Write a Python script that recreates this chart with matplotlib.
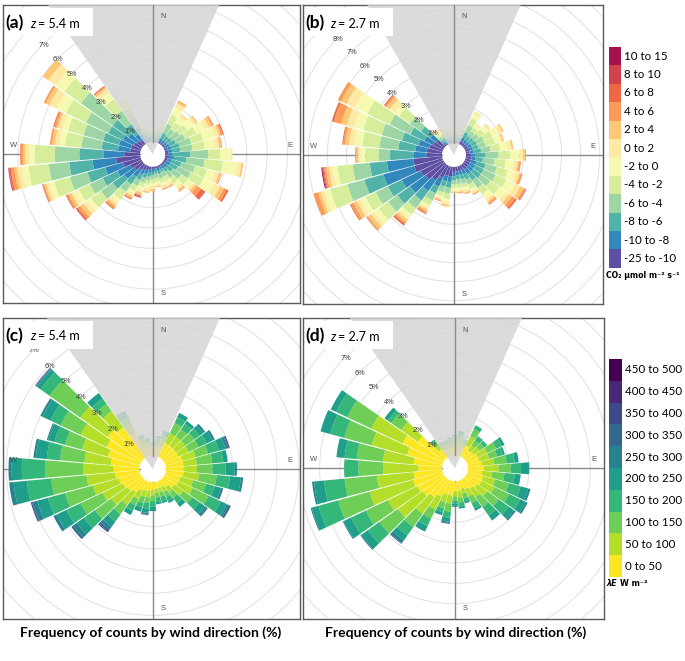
import numpy as np
import matplotlib.pyplot as plt
from matplotlib.patches import Wedge, Circle, Rectangle

# wind direction bins (deg, clockwise from N), 10 deg wide
directions = np.arange(0, 360, 10)

co2_classes = ["-25 to -10", "-10 to -8", "-8 to -6", "-6 to -4", "-4 to -2", "-2 to 0",
               "0 to 2", "2 to 4", "4 to 6", "6 to 8", "8 to 10", "10 to 15"]
le_classes = ["0 to 50", "50 to 100", "100 to 150", "150 to 200", "200 to 250",
              "250 to 300", "300 to 350", "350 to 400", "400 to 450", "450 to 500"]

# frequency (%) per direction bin, one column per class (low -> high)
co2_54 = [
    [0.05, 0.05, 0.1, 0.1, 0.1, 0.05, 0.05, 0, 0, 0, 0, 0],
    [0.05, 0.1, 0.1, 0.15, 0.15, 0.1, 0.05, 0, 0, 0, 0, 0],
    [0.1, 0.1, 0.15, 0.2, 0.2, 0.1, 0.05, 0, 0, 0, 0, 0],
    [0.1, 0.15, 0.3, 0.5, 0.5, 0.4, 0.2, 0.1, 0.05, 0, 0, 0],
    [0.1, 0.15, 0.25, 0.4, 0.4, 0.3, 0.15, 0.05, 0, 0, 0, 0],
    [0.1, 0.15, 0.3, 0.45, 0.45, 0.4, 0.15, 0.1, 0, 0, 0, 0],
    [0.1, 0.2, 0.35, 0.5, 0.6, 0.5, 0.2, 0.15, 0.1, 0, 0, 0],
    [0.15, 0.2, 0.4, 0.6, 0.6, 0.6, 0.2, 0.1, 0.1, 0.05, 0, 0],
    [0.15, 0.2, 0.4, 0.6, 0.6, 0.5, 0.2, 0.1, 0.05, 0, 0, 0],
    [0.16, 0.17, 0.9, 0.88, 0.58, 0.52, 0.09, 0, 0, 0, 0, 0],
    [0.2, 0.25, 0.6, 0.9, 0.9, 0.7, 0.2, 0.1, 0, 0, 0, 0],
    [0.15, 0.2, 0.5, 0.7, 0.6, 0.4, 0.2, 0.1, 0.05, 0, 0, 0],
    [0.15, 0.2, 0.4, 0.7, 0.7, 0.6, 0.3, 0.2, 0.15, 0.1, 0, 0],
    [0.1, 0.2, 0.3, 0.5, 0.4, 0.3, 0.1, 0.15, 0.25, 0.2, 0.05, 0],
    [0.1, 0.15, 0.2, 0.35, 0.35, 0.25, 0.1, 0.1, 0.05, 0, 0, 0],
    [0.1, 0.1, 0.15, 0.25, 0.25, 0.15, 0.1, 0.05, 0.05, 0, 0, 0],
    [0.1, 0.15, 0.15, 0.25, 0.2, 0.15, 0.1, 0.05, 0.05, 0, 0, 0],
    [0.1, 0.1, 0.15, 0.2, 0.2, 0.1, 0.1, 0.05, 0, 0, 0, 0],
    [0.1, 0.15, 0.15, 0.2, 0.2, 0.15, 0.15, 0.1, 0, 0, 0, 0],
    [0.15, 0.15, 0.2, 0.2, 0.2, 0.15, 0.15, 0.1, 0, 0, 0, 0],
    [0.2, 0.2, 0.2, 0.25, 0.2, 0.15, 0.15, 0.1, 0.05, 0.05, 0.05, 0],
    [0.25, 0.25, 0.3, 0.3, 0.3, 0.15, 0.1, 0.1, 0.05, 0.05, 0, 0],
    [0.35, 0.4, 0.45, 0.45, 0.45, 0.2, 0.15, 0.1, 0.1, 0.05, 0, 0],
    [0.5, 0.6, 0.7, 0.7, 0.6, 0.25, 0.2, 0.2, 0.15, 0.07, 0.03, 0],
    [0.6, 0.7, 0.8, 0.7, 0.6, 0.25, 0.15, 0.15, 0.1, 0.05, 0, 0],
    [0.9, 0.9, 0.9, 0.9, 0.8, 0.25, 0.15, 0.1, 0.07, 0.03, 0, 0],
    [1.2, 1.15, 1.15, 1.0, 1.0, 0.3, 0.25, 0.15, 0.17, 0.08, 0.03, 0.02],
    [0.78, 1.0, 1.2, 1.2, 1.0, 0.26, 0.2, 0.1, 0.14, 0.02, 0, 0],
    [0.5, 0.6, 0.8, 1.0, 0.8, 0.3, 0.2, 0.15, 0.1, 0, 0, 0],
    [0.5, 0.6, 0.8, 1.0, 0.8, 0.3, 0.2, 0.1, 0.1, 0.05, 0, 0],
    [0.4, 0.6, 0.8, 1.2, 1.1, 0.5, 0.4, 0.2, 0.1, 0, 0, 0],
    [0.33, 0.52, 0.95, 1.9, 1.0, 0.5, 0.46, 0.34, 0, 0, 0, 0],
    [0.25, 0.35, 0.6, 0.8, 0.7, 0.4, 0.2, 0.1, 0.05, 0.05, 0, 0],
    [0.2, 0.3, 0.4, 0.5, 0.5, 0.3, 0.2, 0, 0, 0, 0, 0],
    [0.1, 0.1, 0.15, 0.2, 0.2, 0.15, 0.1, 0, 0, 0, 0, 0],
    [0.05, 0.1, 0.1, 0.15, 0.15, 0.1, 0.05, 0, 0, 0, 0, 0],
]

co2_27 = [
    [0.05, 0.1, 0.1, 0.1, 0.1, 0.1, 0.05, 0, 0, 0, 0, 0],
    [0.1, 0.1, 0.1, 0.15, 0.15, 0.1, 0.1, 0, 0, 0, 0, 0],
    [0.1, 0.1, 0.15, 0.2, 0.2, 0.15, 0.1, 0, 0, 0, 0, 0],
    [0.2, 0.2, 0.3, 0.4, 0.4, 0.25, 0.15, 0, 0, 0, 0, 0],
    [0.15, 0.2, 0.25, 0.3, 0.25, 0.15, 0.1, 0, 0, 0, 0, 0],
    [0.15, 0.2, 0.3, 0.3, 0.35, 0.25, 0.1, 0.05, 0, 0, 0, 0],
    [0.2, 0.2, 0.3, 0.4, 0.5, 0.35, 0.2, 0.1, 0, 0, 0, 0],
    [0.2, 0.2, 0.3, 0.4, 0.5, 0.3, 0.1, 0.1, 0, 0, 0, 0],
    [0.2, 0.2, 0.4, 0.5, 0.5, 0.4, 0.2, 0.1, 0, 0, 0, 0],
    [0.3, 0.2, 0.5, 0.7, 0.6, 0.5, 0.2, 0.1, 0.04, 0, 0, 0],
    [0.3, 0.2, 0.4, 0.6, 0.6, 0.4, 0.2, 0.1, 0.1, 0, 0, 0],
    [0.3, 0.3, 0.5, 0.6, 0.6, 0.4, 0.2, 0.1, 0.1, 0, 0, 0],
    [0.3, 0.3, 0.5, 0.7, 0.6, 0.5, 0.3, 0.2, 0.1, 0.04, 0.02, 0],
    [0.3, 0.3, 0.5, 0.6, 0.6, 0.4, 0.2, 0.2, 0.2, 0.1, 0, 0],
    [0.3, 0.3, 0.4, 0.5, 0.4, 0.3, 0.15, 0.1, 0.1, 0.02, 0, 0],
    [0.25, 0.25, 0.3, 0.3, 0.25, 0.15, 0.1, 0.05, 0.05, 0, 0, 0],
    [0.25, 0.2, 0.25, 0.25, 0.2, 0.15, 0.1, 0.05, 0.05, 0, 0, 0],
    [0.25, 0.2, 0.2, 0.25, 0.2, 0.1, 0.1, 0.05, 0.05, 0, 0, 0],
    [0.3, 0.2, 0.2, 0.2, 0.2, 0.1, 0.1, 0.06, 0, 0, 0, 0],
    [0.5, 0.3, 0.3, 0.3, 0.3, 0.15, 0.15, 0.1, 0, 0, 0, 0],
    [0.5, 0.3, 0.3, 0.3, 0.2, 0.1, 0.1, 0.05, 0.05, 0, 0, 0],
    [0.7, 0.5, 0.4, 0.4, 0.3, 0.15, 0.1, 0.1, 0.1, 0.05, 0, 0],
    [1.0, 0.7, 0.6, 0.5, 0.4, 0.2, 0.15, 0.15, 0.1, 0.1, 0, 0],
    [1.2, 1.0, 0.8, 0.6, 0.6, 0.3, 0.2, 0.2, 0.1, 0, 0, 0],
    [1.3, 1.1, 0.8, 0.7, 0.6, 0.3, 0.2, 0.2, 0.15, 0.05, 0, 0],
    [1.53, 1.67, 1.04, 0.93, 0.93, 0.3, 0.2, 0.15, 0.25, 0, 0, 0],
    [1.5, 1.4, 0.9, 0.9, 0.8, 0.25, 0.2, 0.15, 0.1, 0.05, 0.05, 0.05],
    [0.8, 0.7, 1.22, 0.6, 0.7, 0.26, 0.1, 0.1, 0.07, 0, 0, 0],
    [0.8, 0.6, 0.9, 1.0, 0.9, 0.4, 0.3, 0.2, 0.1, 0.05, 0, 0],
    [0.7, 0.6, 0.9, 1.1, 1.0, 0.5, 0.4, 0.3, 0.4, 0.1, 0, 0],
    [0.6, 0.5, 0.8, 1.2, 1.3, 0.7, 0.5, 0.3, 0.2, 0, 0, 0],
    [0.5, 0.4, 0.6, 0.7, 0.7, 0.3, 0.3, 0.2, 0.1, 0.07, 0, 0],
    [0.1, 0.1, 0.15, 0.2, 0.2, 0.1, 0.1, 0.05, 0, 0, 0, 0],
    [0.1, 0.1, 0.15, 0.15, 0.15, 0.1, 0.1, 0.05, 0, 0, 0, 0],
    [0.1, 0.1, 0.1, 0.15, 0.15, 0.1, 0.1, 0, 0, 0, 0, 0],
    [0.1, 0.1, 0.1, 0.15, 0.15, 0.1, 0.1, 0, 0, 0, 0, 0],
]

le_54 = [
    [0.3, 0.15, 0.1, 0.05, 0, 0, 0, 0, 0, 0],
    [0.4, 0.2, 0.2, 0.1, 0, 0, 0, 0, 0, 0],
    [0.5, 0.3, 0.2, 0.2, 0, 0, 0, 0, 0, 0],
    [0.7, 0.5, 0.5, 0.3, 0.2, 0, 0, 0, 0, 0],
    [0.7, 0.5, 0.4, 0.3, 0.16, 0, 0, 0, 0, 0],
    [0.7, 0.5, 0.5, 0.3, 0.2, 0.1, 0, 0, 0, 0],
    [0.7, 0.5, 0.5, 0.4, 0.3, 0.1, 0, 0, 0, 0],
    [0.8, 0.6, 0.6, 0.5, 0.3, 0.1, 0.05, 0.05, 0, 0],
    [0.8, 0.6, 0.7, 0.5, 0.2, 0, 0, 0, 0, 0],
    [0.8, 0.6, 0.7, 0.6, 0.4, 0.1, 0, 0, 0, 0],
    [0.8, 0.7, 0.8, 0.6, 0.5, 0.1, 0, 0, 0, 0],
    [0.7, 0.6, 0.6, 0.4, 0.3, 0.1, 0, 0, 0, 0],
    [0.7, 0.7, 0.8, 0.6, 0.3, 0.1, 0.1, 0, 0, 0],
    [0.6, 0.5, 0.5, 0.4, 0.3, 0.1, 0.05, 0, 0, 0],
    [0.4, 0.3, 0.3, 0.3, 0.2, 0, 0, 0, 0, 0],
    [0.3, 0.25, 0.25, 0.2, 0.1, 0, 0, 0, 0, 0],
    [0.3, 0.2, 0.2, 0.2, 0.1, 0, 0, 0, 0, 0],
    [0.3, 0.2, 0.2, 0.2, 0.1, 0, 0, 0, 0, 0],
    [0.35, 0.25, 0.25, 0.25, 0.15, 0.05, 0, 0, 0, 0],
    [0.4, 0.3, 0.25, 0.25, 0.2, 0.05, 0.03, 0.02, 0, 0],
    [0.4, 0.3, 0.3, 0.2, 0.2, 0, 0, 0, 0, 0],
    [0.5, 0.4, 0.3, 0.3, 0.2, 0, 0, 0, 0, 0],
    [0.7, 0.7, 0.5, 0.4, 0.3, 0.15, 0.1, 0.05, 0, 0],
    [0.8, 0.9, 0.9, 0.6, 0.4, 0.2, 0.1, 0, 0, 0],
    [0.9, 1.0, 1.1, 0.7, 0.5, 0.15, 0, 0, 0, 0],
    [1.0, 1.2, 1.3, 0.8, 0.5, 0.2, 0.05, 0.05, 0, 0],
    [1.1, 1.3, 1.6, 1.1, 0.6, 0.2, 0, 0, 0, 0],
    [1.18, 1.35, 1.73, 1.04, 0.46, 0.14, 0, 0, 0, 0],
    [1.3, 1.2, 1.1, 0.6, 0.5, 0.1, 0, 0, 0, 0],
    [1.5, 1.2, 0.8, 0.5, 0.3, 0.05, 0, 0, 0, 0],
    [1.7, 1.3, 1.0, 0.5, 0.4, 0.1, 0, 0, 0, 0],
    [1.9, 1.5, 1.7, 0.5, 0.2, 0.05, 0.03, 0.02, 0, 0],
    [1.7, 0.9, 0.4, 0.3, 0.3, 0, 0, 0, 0, 0],
    [1.2, 0.5, 0.3, 0.2, 0.1, 0, 0, 0, 0, 0],
    [0.5, 0.2, 0.2, 0.1, 0, 0, 0, 0, 0, 0],
    [0.4, 0.2, 0.1, 0.1, 0, 0, 0, 0, 0, 0],
]

le_27 = [
    [0.4, 0.3, 0.2, 0.1, 0, 0, 0, 0, 0, 0],
    [0.5, 0.3, 0.2, 0.2, 0, 0, 0, 0, 0, 0],
    [0.4, 0.2, 0.15, 0.1, 0, 0, 0, 0, 0, 0],
    [0.6, 0.5, 0.4, 0.2, 0, 0, 0, 0, 0, 0],
    [0.45, 0.3, 0.3, 0.2, 0.05, 0, 0, 0, 0, 0],
    [0.5, 0.35, 0.25, 0.2, 0, 0, 0, 0, 0, 0],
    [0.6, 0.5, 0.5, 0.3, 0.15, 0, 0, 0, 0, 0],
    [0.6, 0.5, 0.4, 0.3, 0.1, 0, 0, 0, 0, 0],
    [0.7, 0.6, 0.6, 0.4, 0.2, 0, 0, 0, 0, 0],
    [0.8, 0.7, 0.6, 0.5, 0.4, 0, 0, 0, 0, 0],
    [0.7, 0.5, 0.6, 0.5, 0.3, 0, 0, 0, 0, 0],
    [0.8, 0.6, 0.7, 0.6, 0.4, 0.1, 0, 0, 0, 0],
    [0.8, 0.7, 0.8, 0.6, 0.3, 0.1, 0, 0, 0, 0],
    [0.7, 0.6, 0.7, 0.6, 0.3, 0.1, 0, 0, 0, 0],
    [0.6, 0.5, 0.6, 0.5, 0.3, 0, 0, 0, 0, 0],
    [0.5, 0.4, 0.35, 0.3, 0.12, 0, 0, 0, 0, 0],
    [0.4, 0.25, 0.25, 0.15, 0.1, 0, 0, 0, 0, 0],
    [0.5, 0.3, 0.25, 0.2, 0.1, 0, 0, 0, 0, 0],
    [0.5, 0.25, 0.2, 0.15, 0.1, 0.05, 0, 0, 0, 0],
    [0.7, 0.4, 0.4, 0.3, 0.2, 0.05, 0.05, 0, 0, 0],
    [0.7, 0.4, 0.3, 0.2, 0.15, 0, 0, 0, 0, 0],
    [0.9, 0.7, 0.5, 0.4, 0.3, 0, 0, 0, 0, 0],
    [1.1, 1.0, 0.8, 0.5, 0.3, 0.15, 0.05, 0, 0, 0],
    [1.3, 1.5, 1.1, 0.7, 0.4, 0.05, 0, 0, 0, 0],
    [1.4, 1.6, 1.2, 0.8, 0.4, 0.05, 0, 0, 0, 0],
    [1.5, 2.2, 1.6, 1.0, 0.35, 0.05, 0, 0, 0, 0],
    [1.4, 1.8, 1.6, 1.0, 0.5, 0.1, 0, 0, 0, 0],
    [1.16, 1.72, 1.22, 0.7, 0, 0, 0, 0, 0, 0],
    [1.4, 1.5, 1.3, 0.6, 0.4, 0, 0, 0, 0, 0],
    [1.8, 1.8, 1.4, 0.7, 0.5, 0, 0, 0, 0, 0],
    [2.2, 1.7, 1.3, 0.6, 0.3, 0, 0, 0, 0, 0],
    [1.6, 1.0, 0.6, 0.2, 0.2, 0, 0, 0, 0, 0],
    [0.5, 0.3, 0.2, 0.1, 0, 0, 0, 0, 0, 0],
    [0.4, 0.2, 0.15, 0.05, 0, 0, 0, 0, 0, 0],
    [0.35, 0.2, 0.15, 0.1, 0, 0, 0, 0, 0, 0],
    [0.4, 0.2, 0.2, 0.1, 0, 0, 0, 0, 0, 0],
]

co2_colors = ["#5e4fa2", "#3288bd", "#52b4a9", "#9dd6a4", "#d6ee9b", "#f5fab0",
              "#feeaa5", "#fdc876", "#fb9b57", "#ef6845", "#d3404e", "#a3124a"]
le_colors = ["#fde725", "#b5de2b", "#6ece58", "#35b779", "#1f9e89",
             "#26828e", "#31688e", "#3e4989", "#482878", "#440154"]

W, H = 685, 661
fig = plt.figure(figsize=(W / 100, H / 100), dpi=100)
txt_font = ["Lato", "DejaVu Sans"]
bar_width = 9.3


def draw_rose(box, center, scale, hole, freq, colors, sector, tag, height, nlab):
    x0, y0, x1, y1 = box
    cx, cy = center
    ax = fig.add_axes([x0 / W, 1 - y1 / H, (x1 - x0) / W, (y1 - y0) / H])
    ax.set_xlim((x0 - cx) / scale, (x1 - cx) / scale)
    ax.set_ylim((cy - y1) / scale, (cy - y0) / scale)
    ax.set_xticks([])
    ax.set_yticks([])
    for sp in ax.spines.values():
        sp.set_color("#5a5a5a")
        sp.set_linewidth(1.0)

    def px(xp, yp):
        return (xp - cx) / scale, (cy - yp) / scale

    r0 = hole / scale
    big = 30
    for k in range(1, 15):
        ax.add_patch(Circle((0, 0), r0 + k, fill=False, ec="#e4e4e4", lw=0.8, zorder=0))
    ax.plot([-big, -r0], [0, 0], color="#8a8a8a", lw=1.0, zorder=1)
    ax.plot([r0, big], [0, 0], color="#8a8a8a", lw=1.0, zorder=1)
    ax.plot([0, 0], [-big, -r0], color="#8a8a8a", lw=1.0, zorder=1)
    ax.plot([0, 0], [r0, big], color="#8a8a8a", lw=1.0, zorder=5)

    for d, row in zip(directions, freq):
        bottom = r0
        for v, c in zip(row, colors):
            if v <= 0:
                continue
            ax.add_patch(Wedge((0, 0), bottom + v, 90 - d - bar_width / 2, 90 - d + bar_width / 2,
                               width=v, fc=c, ec="none", zorder=2))
            bottom += v

    # excluded sector
    ax.add_patch(Wedge((0, 0), big, 90 - sector[1], 90 - sector[0],
                       fc="#d4d4d4", ec="none", alpha=0.82, zorder=3))

    s45 = np.sqrt(0.5)
    for k in range(1, nlab + 1):
        ax.text(-(r0 + k - 0.05) * s45, (r0 + k - 0.05) * s45, f"{k}%", ha="center", va="center",
                fontsize=5.3, color="#3a3a3a", family="Liberation Sans", zorder=6)

    lab = dict(fontsize=5.5, color="#505050", family="Liberation Sans", zorder=6,
               ha="center", va="center")
    ax.text(*px(cx + 10, y0 + 12), "N", **lab)
    ax.text(*px(cx + 10, y1 - 10), "S", **lab)
    ax.text(*px(x0 + 11, cy - 9), "W", **lab)
    ax.text(*px(x1 - 10, cy - 9), "E", **lab)

    bx0, by0 = px(x0 + 2, y0 + 31)
    ax.add_patch(Rectangle((bx0, by0), 88 / scale, 28 / scale, fc="white", ec="none", zorder=7))
    ax.text(*px(x0 + 2, y0 + 18), f"({tag})", fontsize=12.5, weight="bold", family=txt_font,
            ha="left", va="center", zorder=8)
    ax.text(*px(x0 + 27, y0 + 18.5), "z", fontsize=9, style="italic", family=txt_font,
            ha="left", va="center", zorder=8)
    ax.text(*px(x0 + 35, y0 + 18.5), f"= {height} m", fontsize=9, family=txt_font,
            ha="left", va="center", zorder=8)
    return ax


draw_rose((3, 5, 300, 303), (152.7, 154.3), 20.4, 12.5, co2_54, co2_colors, (-35, 24), "a", "5.4", 7)
draw_rose((303, 5, 603, 304), (454, 155), 19.1, 12, co2_27, co2_colors, (-30, 24), "b", "2.7", 8)
draw_rose((3, 318, 300, 619), (152.7, 469), 22.2, 13.2, le_54, le_colors, (-35, 24), "c", "5.4", 7)
draw_rose((303, 318, 604, 619), (455, 468.3), 20.4, 13, le_27, le_colors, (-35, 24), "d", "2.7", 7)

# legends and captions in pixel space
ov = fig.add_axes([0, 0, 1, 1])
ov.set_xlim(0, W)
ov.set_ylim(H, 0)
ov.axis("off")
ov.patch.set_alpha(0)

row_h = 18.4
top = 47
for i, (name, c) in enumerate(zip(co2_classes[::-1], co2_colors[::-1])):
    ov.add_patch(Rectangle((609, top + i * row_h), 12, row_h, fc=c, ec="none"))
    ov.text(624, top + (i + 0.5) * row_h, name, fontsize=8.3, family=txt_font,
            ha="left", va="center")
ov.text(606, 275, "CO₂ μmol m⁻² s⁻¹", fontsize=5.6, weight="bold", family=["DejaVu Sans"],
        ha="left", va="center")

row_h = 21.8
top = 359
for i, (name, c) in enumerate(zip(le_classes[::-1], le_colors[::-1])):
    ov.add_patch(Rectangle((609, top + i * row_h), 13, row_h, fc=c, ec="none"))
    ov.text(625, top + (i + 0.5) * row_h, name, fontsize=8.3, family=txt_font,
            ha="left", va="center")
ov.text(606, 583, "λE", fontsize=5.8, weight="bold", style="italic", family=["DejaVu Sans"],
        ha="left", va="center")
ov.text(620, 583, "W m⁻²", fontsize=5.8, weight="bold", family=["DejaVu Sans"],
        ha="left", va="center")

caption = "Frequency of counts by wind direction (%)"
ov.text(151, 633, caption, fontsize=10, weight="bold", family=txt_font, ha="center", va="center")
ov.text(456, 633, caption, fontsize=10, weight="bold", family=txt_font, ha="center", va="center")

fig.savefig("out.png", dpi=100)
